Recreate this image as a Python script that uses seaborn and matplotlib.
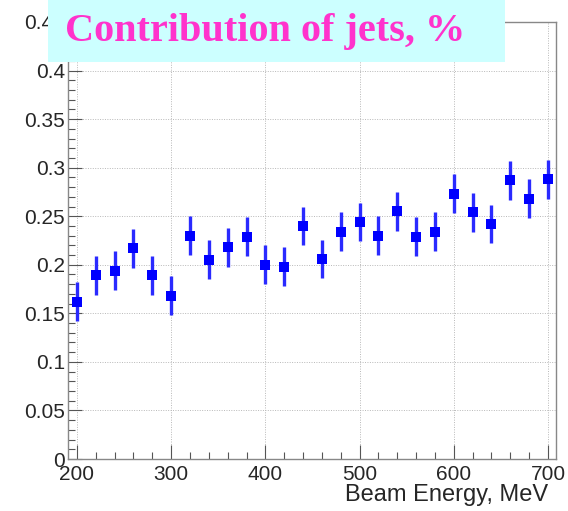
import numpy as np
import pandas as pd
import matplotlib
matplotlib.use("Agg")
import matplotlib.pyplot as plt
import seaborn as sns
from matplotlib.patches import Rectangle
from matplotlib.ticker import MultipleLocator, FixedLocator, FuncFormatter

energy = [200, 220, 240, 260, 280, 300, 320, 340, 360, 380, 400, 420, 440,
          460, 480, 500, 520, 540, 560, 580, 600, 620, 640, 660, 680, 700]
contribution = [0.162, 0.189, 0.194, 0.217, 0.189, 0.168, 0.230, 0.205, 0.218,
                0.229, 0.200, 0.198, 0.240, 0.206, 0.234, 0.244, 0.230, 0.255,
                0.229, 0.234, 0.273, 0.254, 0.242, 0.287, 0.268, 0.288]
error = [0.020] * len(energy)
x_ticks = [200, 300, 400, 500, 600, 700]
y_ticks = [0, 0.05, 0.1, 0.15, 0.2, 0.25, 0.3, 0.35, 0.4, 0.45]
title = "Contribution of jets, %"
xlabel = "Beam Energy, MeV"

df = pd.DataFrame({"energy": energy, "contribution": contribution, "err": error})

sns.set_style("white")
plt.rcParams["font.family"] = ["Liberation Sans", "DejaVu Sans"]

fig = plt.figure(figsize=(5.68, 5.11), dpi=100)
ax = fig.add_axes([68/568, 1-459/511, (556-68)/568, (459-22)/511])

ax.errorbar(df["energy"], df["contribution"], yerr=df["err"], fmt="none",
            ecolor="#2a2aff", elinewidth=2.4, capsize=0, zorder=3)
sns.scatterplot(data=df, x="energy", y="contribution", marker="s", s=45,
                color="#0000ff", edgecolor="#0000ff", linewidth=0, ax=ax, zorder=4)

ax.set_xlim(190.5, 708.5)
ax.set_ylim(0, 0.45)
ax.xaxis.set_major_locator(FixedLocator(x_ticks))
ax.yaxis.set_major_locator(FixedLocator(y_ticks))
ax.xaxis.set_minor_locator(MultipleLocator(20))
ax.yaxis.set_minor_locator(MultipleLocator(0.01))
ax.yaxis.set_major_formatter(FuncFormatter(lambda v, p: "0" if v == 0 else f"{v:g}"))
ax.grid(True, which="major", linestyle=(0, (1, 1.5)), color="#b8b8b8", linewidth=0.7)
ax.tick_params(axis="both", which="major", direction="in", length=10, width=0.8,
               labelsize=15, color="#555555", bottom=True, left=True)
ax.tick_params(axis="both", which="minor", direction="in", length=5, width=0.8,
               color="#555555", bottom=True, left=True)
ax.tick_params(axis="x", pad=4)
ax.tick_params(axis="y", pad=2)
for s in ax.spines.values():
    s.set_color("#888888")
    s.set_linewidth(1.0)
ax.set_xlabel("")
ax.set_ylabel("")
fig.text(548/568, 1-495/511, xlabel, ha="right", va="center", fontsize=17)

fig.patches.append(Rectangle((48/568, 1-62/511), (505-48)/568, 62/511,
                             transform=fig.transFigure, facecolor="#ccffff",
                             edgecolor="none", zorder=10))
fig.text(265/568, 1-31/511, title, ha="center", va="center", fontsize=29,
         fontweight="bold", family=["Liberation Serif"], color="#ff33cc", zorder=11)

fig.savefig("out.png", dpi=100)
